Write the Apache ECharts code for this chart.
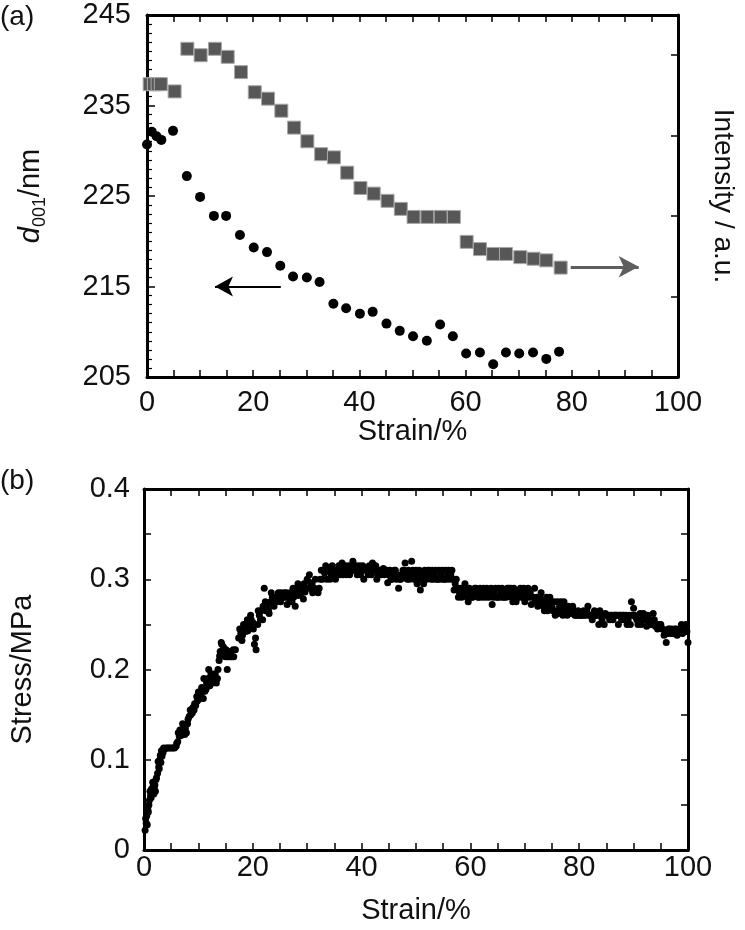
<!DOCTYPE html>
<html>
<head>
<meta charset="utf-8">
<script src="https://cdn.jsdelivr.net/npm/echarts@6/dist/echarts.min.js"></script>
<style>
html,body{margin:0;padding:0;background:#fff;}
#c{width:745px;height:930px;}
</style>
</head>
<body>
<div id="c"></div>
<script>
// ---- (a) d001 spacing (left axis) ----
const dStrain = [0.0,0.9,1.8,2.7,4.9,7.5,10.0,12.6,14.9,17.5,20.1,22.6,25.1,27.5,30.1,32.5,35.1,37.5,40.1,42.5,45.1,47.6,50.1,52.7,55.2,57.6,60.1,62.7,65.2,67.6,70.1,72.7,75.2,77.6];
const d001 = [230.7,232.1,231.6,231.2,232.2,227.2,224.9,222.8,222.8,220.7,219.3,218.8,217.3,216.1,216.0,215.5,213.1,212.6,212.0,212.2,210.9,210.1,209.5,209.0,210.8,209.5,207.6,207.7,206.4,207.7,207.6,207.7,207.0,207.8];

// ---- (a) intensity (right axis, a.u.) ----
const iStrain = [0.5,1.3,2.0,2.6,5.2,7.6,10.1,12.8,15.2,17.7,20.3,22.8,25.3,27.7,30.2,32.8,35.2,37.7,40.2,42.7,45.3,47.8,50.2,52.8,55.3,57.8,60.2,62.7,65.2,67.6,70.3,72.8,75.2,77.9];
const intensity = [3.64,3.64,3.64,3.64,3.55,4.08,4.00,4.08,3.98,3.79,3.54,3.46,3.31,3.10,2.93,2.77,2.73,2.54,2.35,2.28,2.19,2.09,1.99,1.99,1.99,1.99,1.68,1.59,1.53,1.53,1.49,1.47,1.45,1.36];

// ---- (b) stress-strain, first layer ----
const stressStrain = [0.2,0.4,0.5,0.7,0.9,1.0,1.2,1.4,1.5,1.7,1.9,2.0,2.2,2.5,2.7,2.9,3.1,3.3,3.5,3.8,4.1,4.4,4.7,5.0,5.3,5.6,5.9,6.2,6.5,6.8,7.0,7.3,7.5,7.8,8.0,8.3,8.6,8.9,9.2,9.5,9.8,10.1,10.3,10.6,10.9,11.2,11.5,11.8,12.1,12.4,12.7,13.0,13.3,13.6,13.8,14.0,14.3,14.5,14.8,15.0,15.3,15.3,15.6,15.9,16.2,16.5,16.8,
17.4,17.8,18.1,18.5,18.8,19.1,19.4,19.7,20.0,20.3,20.6,20.9,21.2,21.5,21.8,22.1,22.4,22.7,23.0,23.3,23.6,23.9,24.2,24.5,24.8,25.1,25.4,25.7,26.0,26.3,26.6,26.9,27.2,27.5,27.8,28.1,28.4,28.7,29.0,29.3,29.6,30.0,30.3,30.6,31.0,31.3,31.6,32.0,32.4,32.8,33.2,33.6,34.0,34.4,34.8,35.2,35.6,36.0,36.4,36.8,37.2,37.6,38.0,38.4,38.8,39.2,39.6,40.0,40.4,40.8,41.2,41.6,42.0,42.4,42.8,43.2,43.6,44.0,44.4,44.8,45.2,45.6,46.0,46.4,46.8,47.2,47.6,48.0,48.4,48.8,49.2,49.6,50.0,50.4,50.8,51.2,51.6,52.0,52.4,52.8,53.2,53.6,54.0,54.4,54.8,55.2,55.6,56.0,56.4,56.8,57.2,57.6,58.0,58.4,58.8,59.2,59.6,60.0,60.4,60.8,61.2,61.6,62.0,62.4,62.8,63.2,63.6,64.0,64.4,64.8,65.2,65.6,66.0,66.4,66.8,67.2,67.6,68.0,68.4,68.8,69.2,69.6,70.0,70.4,70.8,71.2,71.6,72.0,72.4,72.8,73.2,73.6,74.0,74.4,74.8,75.2,75.6,76.0,76.4,76.8,77.2,77.6,78.0,78.4,78.8,79.2,79.6,80.0,80.4,80.8,81.2,81.6,82.0,82.4,82.8,83.2,83.6,84.0,84.4,84.8,85.2,85.6,86.0,86.4,86.8,87.2,87.6,88.0,88.4,88.8,89.2,89.6,90.0,90.4,90.8,91.2,91.6,92.0,92.4,92.8,93.2,93.6,94.0,94.4,94.8,95.2,95.6,96.0,96.4,96.8,97.2,97.6,98.0,98.4,98.8,99.2,99.6,100.0];
const stressMPa = [0.022,0.030,0.038,0.045,0.050,0.055,0.060,0.068,0.063,0.070,0.068,0.072,0.078,0.085,0.092,0.100,0.097,0.104,0.108,0.112,0.113,0.113,0.113,0.113,0.113,0.113,0.115,0.120,0.126,0.127,0.130,0.135,0.128,0.130,0.140,0.148,0.150,0.152,0.155,0.160,0.165,0.167,0.175,0.180,0.168,0.176,0.185,0.190,0.182,0.190,0.195,0.190,0.185,0.200,0.210,0.220,0.228,0.215,0.222,0.214,0.214,0.200,0.214,0.218,0.214,0.214,0.222,
0.235,0.240,0.238,0.245,0.250,0.243,0.248,0.255,0.252,0.228,0.222,0.250,0.260,0.265,0.255,0.290,0.265,0.270,0.262,0.275,0.280,0.270,0.280,0.280,0.280,0.275,0.280,0.280,0.280,0.272,0.280,0.285,0.275,0.280,0.270,0.288,0.282,0.292,0.285,0.278,0.286,0.300,0.290,0.296,0.285,0.290,0.288,0.285,0.300,0.300,0.307,0.300,0.310,0.305,0.310,0.300,0.310,0.305,0.318,0.310,0.305,0.315,0.310,0.320,0.310,0.305,0.315,0.310,0.300,0.312,0.305,0.310,0.318,0.310,0.300,0.310,0.305,0.312,0.310,0.296,0.310,0.300,0.310,0.300,0.290,0.300,0.310,0.318,0.300,0.300,0.320,0.300,0.310,0.300,0.288,0.300,0.310,0.300,0.310,0.300,0.300,0.310,0.300,0.300,0.310,0.300,0.300,0.310,0.305,0.300,0.295,0.290,0.285,0.280,0.290,0.285,0.275,0.285,0.280,0.290,0.285,0.280,0.285,0.290,0.280,0.285,0.285,0.272,0.285,0.280,0.290,0.285,0.280,0.285,0.290,0.285,0.280,0.290,0.275,0.285,0.290,0.280,0.275,0.285,0.280,0.272,0.280,0.275,0.270,0.280,0.275,0.265,0.280,0.270,0.275,0.265,0.260,0.275,0.270,0.265,0.275,0.265,0.270,0.262,0.270,0.260,0.260,0.260,0.260,0.265,0.260,0.270,0.260,0.255,0.265,0.260,0.250,0.260,0.260,0.262,0.260,0.255,0.260,0.260,0.260,0.250,0.260,0.260,0.255,0.250,0.260,0.275,0.268,0.258,0.250,0.262,0.255,0.260,0.248,0.255,0.250,0.262,0.248,0.245,0.250,0.245,0.238,0.230,0.245,0.240,0.240,0.245,0.238,0.245,0.250,0.245,0.250,0.230];

// ---- (b) stress-strain, second layer (thickens the band) ----
const stressStrain2 = [0.3,0.6,0.8,1.1,1.3,1.6,1.8,2.1,2.3,2.6,2.8,3.0,3.2,3.6,6.0,6.3,6.6,6.9,7.1,7.6,8.1,8.5,9.0,9.3,9.7,10.0,10.5,11.0,11.4,11.9,12.3,12.6,13.1,13.5,13.9,14.2,14.6,15.1,15.5,16.0,16.4,
17.6,18.0,18.3,18.7,19.0,19.6,20.1,20.5,21.0,21.4,21.9,22.3,22.9,23.4,23.8,24.3,24.7,25.2,25.8,26.2,26.8,27.4,27.9,28.3,28.9,29.4,29.8,30.4,30.9,31.5,32.2,32.6,33.0,33.4,34.2,34.6,35.0,35.4,35.8,36.2,36.6,37.0,37.4,37.8,38.2,38.6,39.0,39.4,39.8,40.2,40.6,41.0,41.4,41.8,42.2,42.6,43.0,43.4,43.8,44.2,44.6,45.0,45.4,45.8,46.2,46.6,47.0,47.4,47.8,48.2,48.6,49.0,49.4,49.8,50.2,50.6,51.0,51.4,51.8,52.2,52.6,53.0,53.4,53.8,54.2,54.6,55.0,55.4,55.8,56.2,56.6,57.0,57.4,57.8,58.2,58.6,59.0,59.4,59.8,60.2,60.6,61.0,61.4,61.8,62.2,62.6,63.0,63.4,63.8,64.2,64.6,65.0,65.4,65.8,66.2,66.6,67.0,67.4,67.8,68.2,68.6,69.0,69.4,69.8,70.2,70.6,71.0,71.4,71.8,72.2,72.6,73.0,73.4,73.8,74.2,74.6,75.0,75.4,75.8,76.2,76.6,77.0,77.4,77.8,78.2,78.6,79.0,79.4,79.8,80.2,80.6,81.0,81.4,81.8,82.2,82.6,83.0,83.4,83.8,84.2,84.6,85.0,85.4,85.8,86.2,86.6,87.0,87.4,87.8,88.2,88.6,89.0,89.4,89.8,90.2,90.6,91.0,91.4,91.8,92.2,92.6,93.0,93.4,93.8,94.2,94.6,95.0,95.4,95.8,96.2,96.6,97.0,97.4,97.8,98.2,98.6,99.0,99.4,99.8];
const stressMPa2 = [0.035,0.028,0.042,0.065,0.058,0.075,0.062,0.065,0.080,0.098,0.090,0.105,0.110,0.113,0.118,0.130,0.133,0.128,0.140,0.135,0.145,0.155,0.158,0.162,0.170,0.175,0.172,0.190,0.178,0.200,0.195,0.185,0.195,0.190,0.215,0.230,0.225,0.222,0.220,0.214,0.222,
0.245,0.232,0.250,0.242,0.255,0.260,0.245,0.235,0.265,0.255,0.270,0.275,0.265,0.285,0.280,0.275,0.285,0.285,0.285,0.285,0.278,0.290,0.285,0.295,0.290,0.295,0.290,0.305,0.295,0.300,0.290,0.310,0.310,0.315,0.300,0.315,0.310,0.305,0.315,0.310,0.305,0.315,0.310,0.305,0.315,0.310,0.315,0.310,0.305,0.315,0.310,0.310,0.315,0.305,0.310,0.315,0.305,0.310,0.310,0.305,0.310,0.305,0.300,0.305,0.310,0.305,0.300,0.305,0.310,0.305,0.310,0.305,0.310,0.305,0.295,0.310,0.305,0.295,0.305,0.310,0.305,0.310,0.305,0.300,0.310,0.305,0.300,0.310,0.305,0.300,0.310,0.288,0.300,0.280,0.290,0.285,0.295,0.280,0.290,0.280,0.285,0.290,0.280,0.290,0.280,0.285,0.290,0.280,0.290,0.280,0.290,0.280,0.280,0.290,0.280,0.280,0.290,0.290,0.275,0.285,0.280,0.280,0.285,0.290,0.280,0.290,0.285,0.280,0.290,0.280,0.275,0.285,0.270,0.275,0.265,0.280,0.270,0.275,0.265,0.262,0.275,0.260,0.270,0.260,0.265,0.265,0.265,0.260,0.265,0.260,0.260,0.260,0.265,0.260,0.260,0.260,0.260,0.260,0.265,0.255,0.250,0.260,0.260,0.260,0.255,0.260,0.260,0.260,0.255,0.260,0.260,0.255,0.250,0.260,0.260,0.255,0.255,0.250,0.262,0.255,0.260,0.255,0.250,0.255,0.250,0.250,0.250,0.245,0.240,0.240,0.245,0.245,0.240,0.245,0.240,0.245,0.240,0.248,0.242];

// ---- axis tick labels ----
const strainTicks = [0,20,40,60,80,100];
const dTicks = [205,215,225,235,245];
const stressTicks = [0,0.1,0.2,0.3,0.4];

const FONT = "'Liberation Sans', Arial, sans-serif";
const FS = 29;
const TXT = '#111';

function frameX(gridIndex, show, nameText, nameGap, labelMargin) {
  return {
    type:'value', gridIndex, min:0, max:100, interval:20,
    position: show ? 'bottom' : 'top',
    axisLine:{show:true, onZero:false, lineStyle:{color:'#000', width:3}},
    axisTick:{show:true, inside:true, length:7, lineStyle:{color:'#000', width:1.5}},
    minorTick:{show:true, splitNumber:4, length:7, lineStyle:{color:'#000', width:1.5}},
    splitLine:{show:false}, minorSplitLine:{show:false},
    axisLabel:{show:show, margin:labelMargin, color:TXT, fontFamily:FONT, fontSize:FS,
      formatter: v => strainTicks.includes(v) ? String(v) : ''},
    name: show ? nameText : '', nameLocation:'middle', nameGap,
    nameTextStyle:{color:TXT, fontFamily:FONT, fontSize:FS}
  };
}

const chart = echarts.init(document.getElementById('c'), null, {renderer:'canvas'});
chart.setOption({
  animation:false,
  backgroundColor:'#fff',
  textStyle:{fontFamily:FONT},
  graphic:[
    {type:'text', left:0, top:3, style:{text:'(a)', font:"28px 'Liberation Sans', Arial", fill:TXT}},
    {type:'text', left:0, top:467, style:{text:'(b)', font:"28px 'Liberation Sans', Arial", fill:TXT}}
  ],
  grid:[
    {left:147, top:15, width:541, height:362},
    {left:143, top:489, width:545, height:361}
  ],
  xAxis:[
    frameX(0, true, 'Strain/%', 34, 11),
    frameX(0, false, '', 0, 0),
    frameX(1, true, 'Strain/%', 46, 3),
    frameX(1, false, '', 0, 0)
  ],
  yAxis:[
    { // d001 (left, top panel)
      type:'value', gridIndex:0, min:205, max:245, interval:10, position:'left',
      axisLine:{show:true, onZero:false, lineStyle:{color:'#000', width:3}},
      axisTick:{show:true, inside:true, length:8, lineStyle:{color:'#000', width:1.5}},
      minorTick:{show:true, splitNumber:10, length:5, lineStyle:{color:'#000', width:1.2}},
      splitLine:{show:false},
      axisLabel:{margin:16, color:TXT, fontFamily:FONT, fontSize:FS,
        formatter: v => dTicks.includes(v) ? String(v) : ''},
      name:'{i|d}{s|001}{n|/nm}', nameLocation:'middle', nameGap:102, nameRotate:90,
      nameTextStyle:{color:TXT, fontFamily:FONT, fontSize:FS,
        rich:{
          i:{fontStyle:'italic', fontSize:FS, fontFamily:FONT, color:TXT, lineHeight:32, verticalAlign:'bottom'},
          s:{fontSize:18, fontFamily:FONT, color:TXT, lineHeight:32, verticalAlign:'bottom', padding:[0,0,-4,0]},
          n:{fontSize:FS, fontFamily:FONT, color:TXT, lineHeight:32, verticalAlign:'bottom'}
        }}
    },
    { // intensity (right, top panel)
      type:'value', gridIndex:0, min:0, max:4.5, interval:1, position:'right',
      axisLine:{show:true, onZero:false, lineStyle:{color:'#000', width:3}},
      axisTick:{show:true, inside:true, length:7, lineStyle:{color:'#000', width:1.5}},
      splitLine:{show:false},
      axisLabel:{show:false},
      name:'Intensity / a.u.', nameLocation:'middle', nameGap:31, nameRotate:-90,
      nameTextStyle:{color:TXT, fontFamily:FONT, fontSize:FS-1}
    },
    { // stress (left, bottom panel)
      type:'value', gridIndex:1, min:0, max:0.4, interval:0.1, position:'left',
      axisLine:{show:true, onZero:false, lineStyle:{color:'#000', width:3}},
      axisTick:{show:true, inside:true, length:7, lineStyle:{color:'#000', width:1.5}},
      minorTick:{show:true, splitNumber:2, length:7, lineStyle:{color:'#000', width:1.5}},
      splitLine:{show:false},
      axisLabel:{margin:14, color:TXT, fontFamily:FONT, fontSize:FS,
        formatter: v => { const r = Math.round(v*10)/10; return stressTicks.includes(r) ? (r===0?'0':r.toFixed(1)) : ''; }},
      name:'Stress/MPa', nameLocation:'middle', nameGap:107, nameRotate:90,
      nameTextStyle:{color:TXT, fontFamily:FONT, fontSize:FS}
    },
    { // right frame, bottom panel
      type:'value', gridIndex:1, min:0, max:0.4, interval:0.1, position:'right',
      axisLine:{show:true, onZero:false, lineStyle:{color:'#000', width:3}},
      axisTick:{show:true, inside:true, length:7, lineStyle:{color:'#000', width:1.5}},
      minorTick:{show:true, splitNumber:2, length:7, lineStyle:{color:'#000', width:1.5}},
      splitLine:{show:false}, axisLabel:{show:false}
    }
  ],
  series:[
    {
      name:'Intensity', type:'scatter', xAxisIndex:0, yAxisIndex:1,
      data: iStrain.map((x,i)=>[x,intensity[i]]),
      symbol:'rect', symbolSize:13,
      itemStyle:{color:'#575757', borderColor:'#a8a8a8', borderWidth:1, opacity:1},
      z:3,
      markLine:{
        silent:true, symbol:['none','arrow'], symbolSize:[16,20],
        lineStyle:{color:'#5e5e5e', width:3, type:'solid'},
        label:{show:false},
        data:[[{coord:[79.8,1.37]},{coord:[92.6,1.37]}]]
      }
    },
    {
      name:'d001', type:'scatter', xAxisIndex:0, yAxisIndex:0,
      data: dStrain.map((x,i)=>[x,d001[i]]),
      symbol:'circle', symbolSize:10,
      itemStyle:{color:'#000', opacity:1},
      z:4,
      markLine:{
        silent:true, symbol:['none','arrow'], symbolSize:[15,18],
        lineStyle:{color:'#000', width:2, type:'solid'},
        label:{show:false},
        data:[[{coord:[25.2,215.0]},{coord:[12.8,215.0]}]]
      }
    },
    {
      name:'Stress', type:'scatter', xAxisIndex:2, yAxisIndex:2,
      data: stressStrain.map((x,i)=>[x,stressMPa[i]]),
      symbol:'circle', symbolSize:7,
      itemStyle:{color:'#000', opacity:1}
    },
    {
      name:'Stress2', type:'scatter', xAxisIndex:2, yAxisIndex:2,
      data: stressStrain2.map((x,i)=>[x,stressMPa2[i]]),
      symbol:'circle', symbolSize:7,
      itemStyle:{color:'#000', opacity:1}
    }
  ]
});
</script>
</body>
</html>
